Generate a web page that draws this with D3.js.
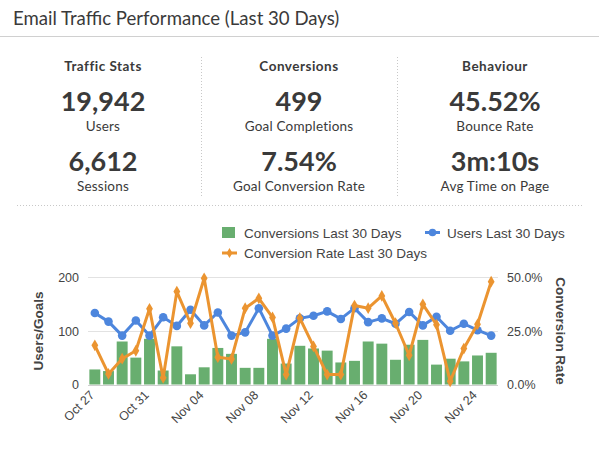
<!DOCTYPE html>
<html>
<head>
<meta charset="utf-8">
<script src="https://cdn.jsdelivr.net/npm/d3@7"></script>
<style>
  html, body { margin: 0; padding: 0; background: #fff; }
  svg { display: block; }
</style>
</head>
<body>
<svg id="chart" width="599" height="459"></svg>
<script>
// ---- Data ----
const title = "Email Traffic Performance (Last 30 Days)";
const statGroups = ["Traffic Stats", "Conversions", "Behaviour"];
const statValues1 = ["19,942", "499", "45.52%"];
const statLabels1 = ["Users", "Goal Completions", "Bounce Rate"];
const statValues2 = ["6,612", "7.54%", "3m:10s"];
const statLabels2 = ["Sessions", "Goal Conversion Rate", "Avg Time on Page"];

const days = ["Oct 27","Oct 28","Oct 29","Oct 30","Oct 31","Nov 01","Nov 02","Nov 03","Nov 04","Nov 05",
              "Nov 06","Nov 07","Nov 08","Nov 09","Nov 10","Nov 11","Nov 12","Nov 13","Nov 14","Nov 15",
              "Nov 16","Nov 17","Nov 18","Nov 19","Nov 20","Nov 21","Nov 22","Nov 23","Nov 24","Nov 25"];
const conversions = [28,25,80,50,85,26,71,19,32,68,57,31,31,85,39,72,67,63,41,44,80,76,46,74,83,37,48,43,54,59];
const users = [133,117,91,119,91,125,109,139,110,134,91,97,142,91,104,123,128,136,122,142,116,123,113,135,110,126,100,113,101,91];
const convRate = [18.2,4.9,12.0,15.7,35.2,3.1,43.2,28.5,49.4,12.7,11.9,35.5,40.1,31.2,4.6,30.9,17.7,4.6,4.6,36.7,35.5,41.2,28.5,13.6,37.3,27.8,1.5,16.7,28.0,47.8];
const leftTicks = [0, 100, 200];
const rightTicks = [0, 25, 50];
const xTickLabels = ["Oct 27","Oct 31","Nov 04","Nov 08","Nov 12","Nov 16","Nov 20","Nov 24"];
const seriesNames = ["Conversions Last 30 Days", "Users Last 30 Days", "Conversion Rate Last 30 Days"];
const yLeftTitle = "Users/Goals";
const yRightTitle = "Conversion Rate";

// ---- Styles ----
const GREEN = "#68ae6f", BLUE = "#4d86dd", ORANGE = "#eb9430";
const HFONT = "Lato, 'Open Sans', sans-serif";
const CFONT = "'Liberation Sans', Arial, sans-serif";
const TXT = "#3a3a3a";

const svg = d3.select("#chart");
svg.append("rect").attr("width", 599).attr("height", 459).attr("fill", "#fff");

// Title
svg.append("text").attr("x", 13).attr("y", 24.5)
  .attr("font-family", HFONT).attr("font-size", 18.6).attr("fill", TXT).text(title);
svg.append("line").attr("x1", 0).attr("x2", 599).attr("y1", 36.5).attr("y2", 36.5)
  .attr("stroke", "#d0d0d0").attr("stroke-width", 1);

// Stats
const colX = d3.scalePoint().domain(statGroups).range([103, 495]);
const g = svg.append("g").attr("font-family", HFONT).attr("fill", TXT).attr("text-anchor", "middle");
statGroups.forEach((s, i) => {
  const x = colX(s);
  g.append("text").attr("x", x).attr("y", 71).attr("font-size", 13.5).attr("font-weight", 700)
    .attr("letter-spacing", 0.5).text(s);
  g.append("text").attr("x", x).attr("y", 111).attr("font-size", 27).attr("font-weight", 700).text(statValues1[i]);
  g.append("text").attr("x", x).attr("y", 131).attr("font-size", 13.5).attr("letter-spacing", 0.2).text(statLabels1[i]);
  g.append("text").attr("x", x).attr("y", 171).attr("font-size", 27).attr("font-weight", 700).text(statValues2[i]);
  g.append("text").attr("x", x).attr("y", 191).attr("font-size", 13.5).attr("letter-spacing", 0.2).text(statLabels2[i]);
});
[201, 397].forEach(x => {
  svg.append("line").attr("x1", x + 0.5).attr("x2", x + 0.5).attr("y1", 57).attr("y2", 196)
    .attr("stroke", "#c8c8c8").attr("stroke-dasharray", "1,2");
});
svg.append("line").attr("x1", 17).attr("x2", 582).attr("y1", 205.5).attr("y2", 205.5)
  .attr("stroke", "#c8c8c8").attr("stroke-dasharray", "1,2");

// ---- Chart ----
const x = d3.scaleBand().domain(days).range([88, 498]).paddingInner(0.2).paddingOuter(0.1);
const yL = d3.scaleLinear().domain([0, 200]).range([384.5, 277]);
const yR = d3.scaleLinear().domain([0, 50]).range([384.5, 277]);
const cx = d => x(d) + x.bandwidth() / 2;

// gridlines
svg.append("g").selectAll("line").data(leftTicks).join("line")
  .attr("x1", 88).attr("x2", 498)
  .attr("y1", d => Math.round(yL(d)) + 0.5).attr("y2", d => Math.round(yL(d)) + 0.5)
  .attr("stroke", d => d === 0 ? "#cfcfcf" : "#e2e2e2");

// left axis labels
const axL = d3.axisLeft(yL).tickValues(leftTicks).tickSize(0).tickPadding(0);
const gL = svg.append("g").attr("transform", "translate(79,0)").call(axL);
gL.select(".domain").remove();
gL.selectAll("text").attr("font-family", CFONT).attr("font-size", 12.5).attr("fill", "#444").attr("dy", "0.35em");

// right axis labels
const axR = d3.axisRight(yR).tickValues(rightTicks).tickSize(0).tickPadding(0).tickFormat(d => d.toFixed(1) + "%");
const gR = svg.append("g").attr("transform", "translate(507,0)").call(axR);
gR.select(".domain").remove();
gR.selectAll("text").attr("font-family", CFONT).attr("font-size", 12.5).attr("fill", "#444").attr("dy", "0.35em");

// bars
svg.append("g").selectAll("rect").data(days).join("rect")
  .attr("x", d => x(d)).attr("width", x.bandwidth())
  .attr("y", (d, i) => yL(conversions[i])).attr("height", (d, i) => yL(0) - yL(conversions[i]))
  .attr("fill", GREEN);

// users line
const lineU = d3.line().x((d, i) => cx(days[i])).y(d => yL(d));
svg.append("path").datum(users).attr("d", lineU).attr("fill", "none")
  .attr("stroke", BLUE).attr("stroke-width", 3).attr("stroke-linejoin", "round");
svg.append("g").selectAll("circle").data(users).join("circle")
  .attr("cx", (d, i) => cx(days[i])).attr("cy", d => yL(d)).attr("r", 4.3).attr("fill", BLUE);

// conversion rate line
const lineR = d3.line().x((d, i) => cx(days[i])).y(d => yR(d));
svg.append("path").datum(convRate).attr("d", lineR).attr("fill", "none")
  .attr("stroke", ORANGE).attr("stroke-width", 3).attr("stroke-linejoin", "round");
const diamond = d3.symbol().type(d3.symbolDiamond).size(40);
svg.append("g").selectAll("path").data(convRate).join("path")
  .attr("d", diamond)
  .attr("transform", (d, i) => `translate(${cx(days[i])},${yR(d)})`)
  .attr("fill", ORANGE);

// x axis labels
const axX = d3.axisBottom(x).tickValues(xTickLabels).tickSize(0).tickPadding(0);
const gX = svg.append("g").attr("transform", "translate(0,390)").call(axX);
gX.select(".domain").remove();
gX.selectAll("text")
  .attr("font-family", CFONT).attr("font-size", 12.5).attr("fill", "#444")
  .attr("text-anchor", "end").attr("dy", "0.35em").attr("y", 0)
  .attr("transform", "rotate(-45) translate(-4,0)");

// axis titles
svg.append("text").attr("transform", "translate(43,331) rotate(-90)")
  .attr("text-anchor", "middle").attr("font-family", CFONT).attr("font-size", 13.5)
  .attr("font-weight", 700).attr("fill", "#444").text(yLeftTitle);
svg.append("text").attr("transform", "translate(556,331) rotate(90)")
  .attr("text-anchor", "middle").attr("font-family", CFONT).attr("font-size", 13.5)
  .attr("font-weight", 700).attr("fill", "#444").text(yRightTitle);

// legend
const lg = svg.append("g").attr("font-family", CFONT).attr("font-size", 13.5).attr("fill", "#444");
lg.append("rect").attr("x", 222).attr("y", 227).attr("width", 13).attr("height", 11).attr("fill", GREEN);
lg.append("text").attr("x", 244).attr("y", 237.5).text(seriesNames[0]);
lg.append("line").attr("x1", 425).attr("x2", 440).attr("y1", 232.5).attr("y2", 232.5).attr("stroke", BLUE).attr("stroke-width", 3);
lg.append("circle").attr("cx", 432.5).attr("cy", 232.5).attr("r", 3.8).attr("fill", BLUE);
lg.append("text").attr("x", 447).attr("y", 237.5).text(seriesNames[1]);
lg.append("line").attr("x1", 222).attr("x2", 237).attr("y1", 253).attr("y2", 253).attr("stroke", ORANGE).attr("stroke-width", 3);
lg.append("path").attr("d", d3.symbol().type(d3.symbolDiamond).size(30)).attr("transform", "translate(229.5,253)").attr("fill", ORANGE);
lg.append("text").attr("x", 244).attr("y", 258).text(seriesNames[2]);
</script>
</body>
</html>
